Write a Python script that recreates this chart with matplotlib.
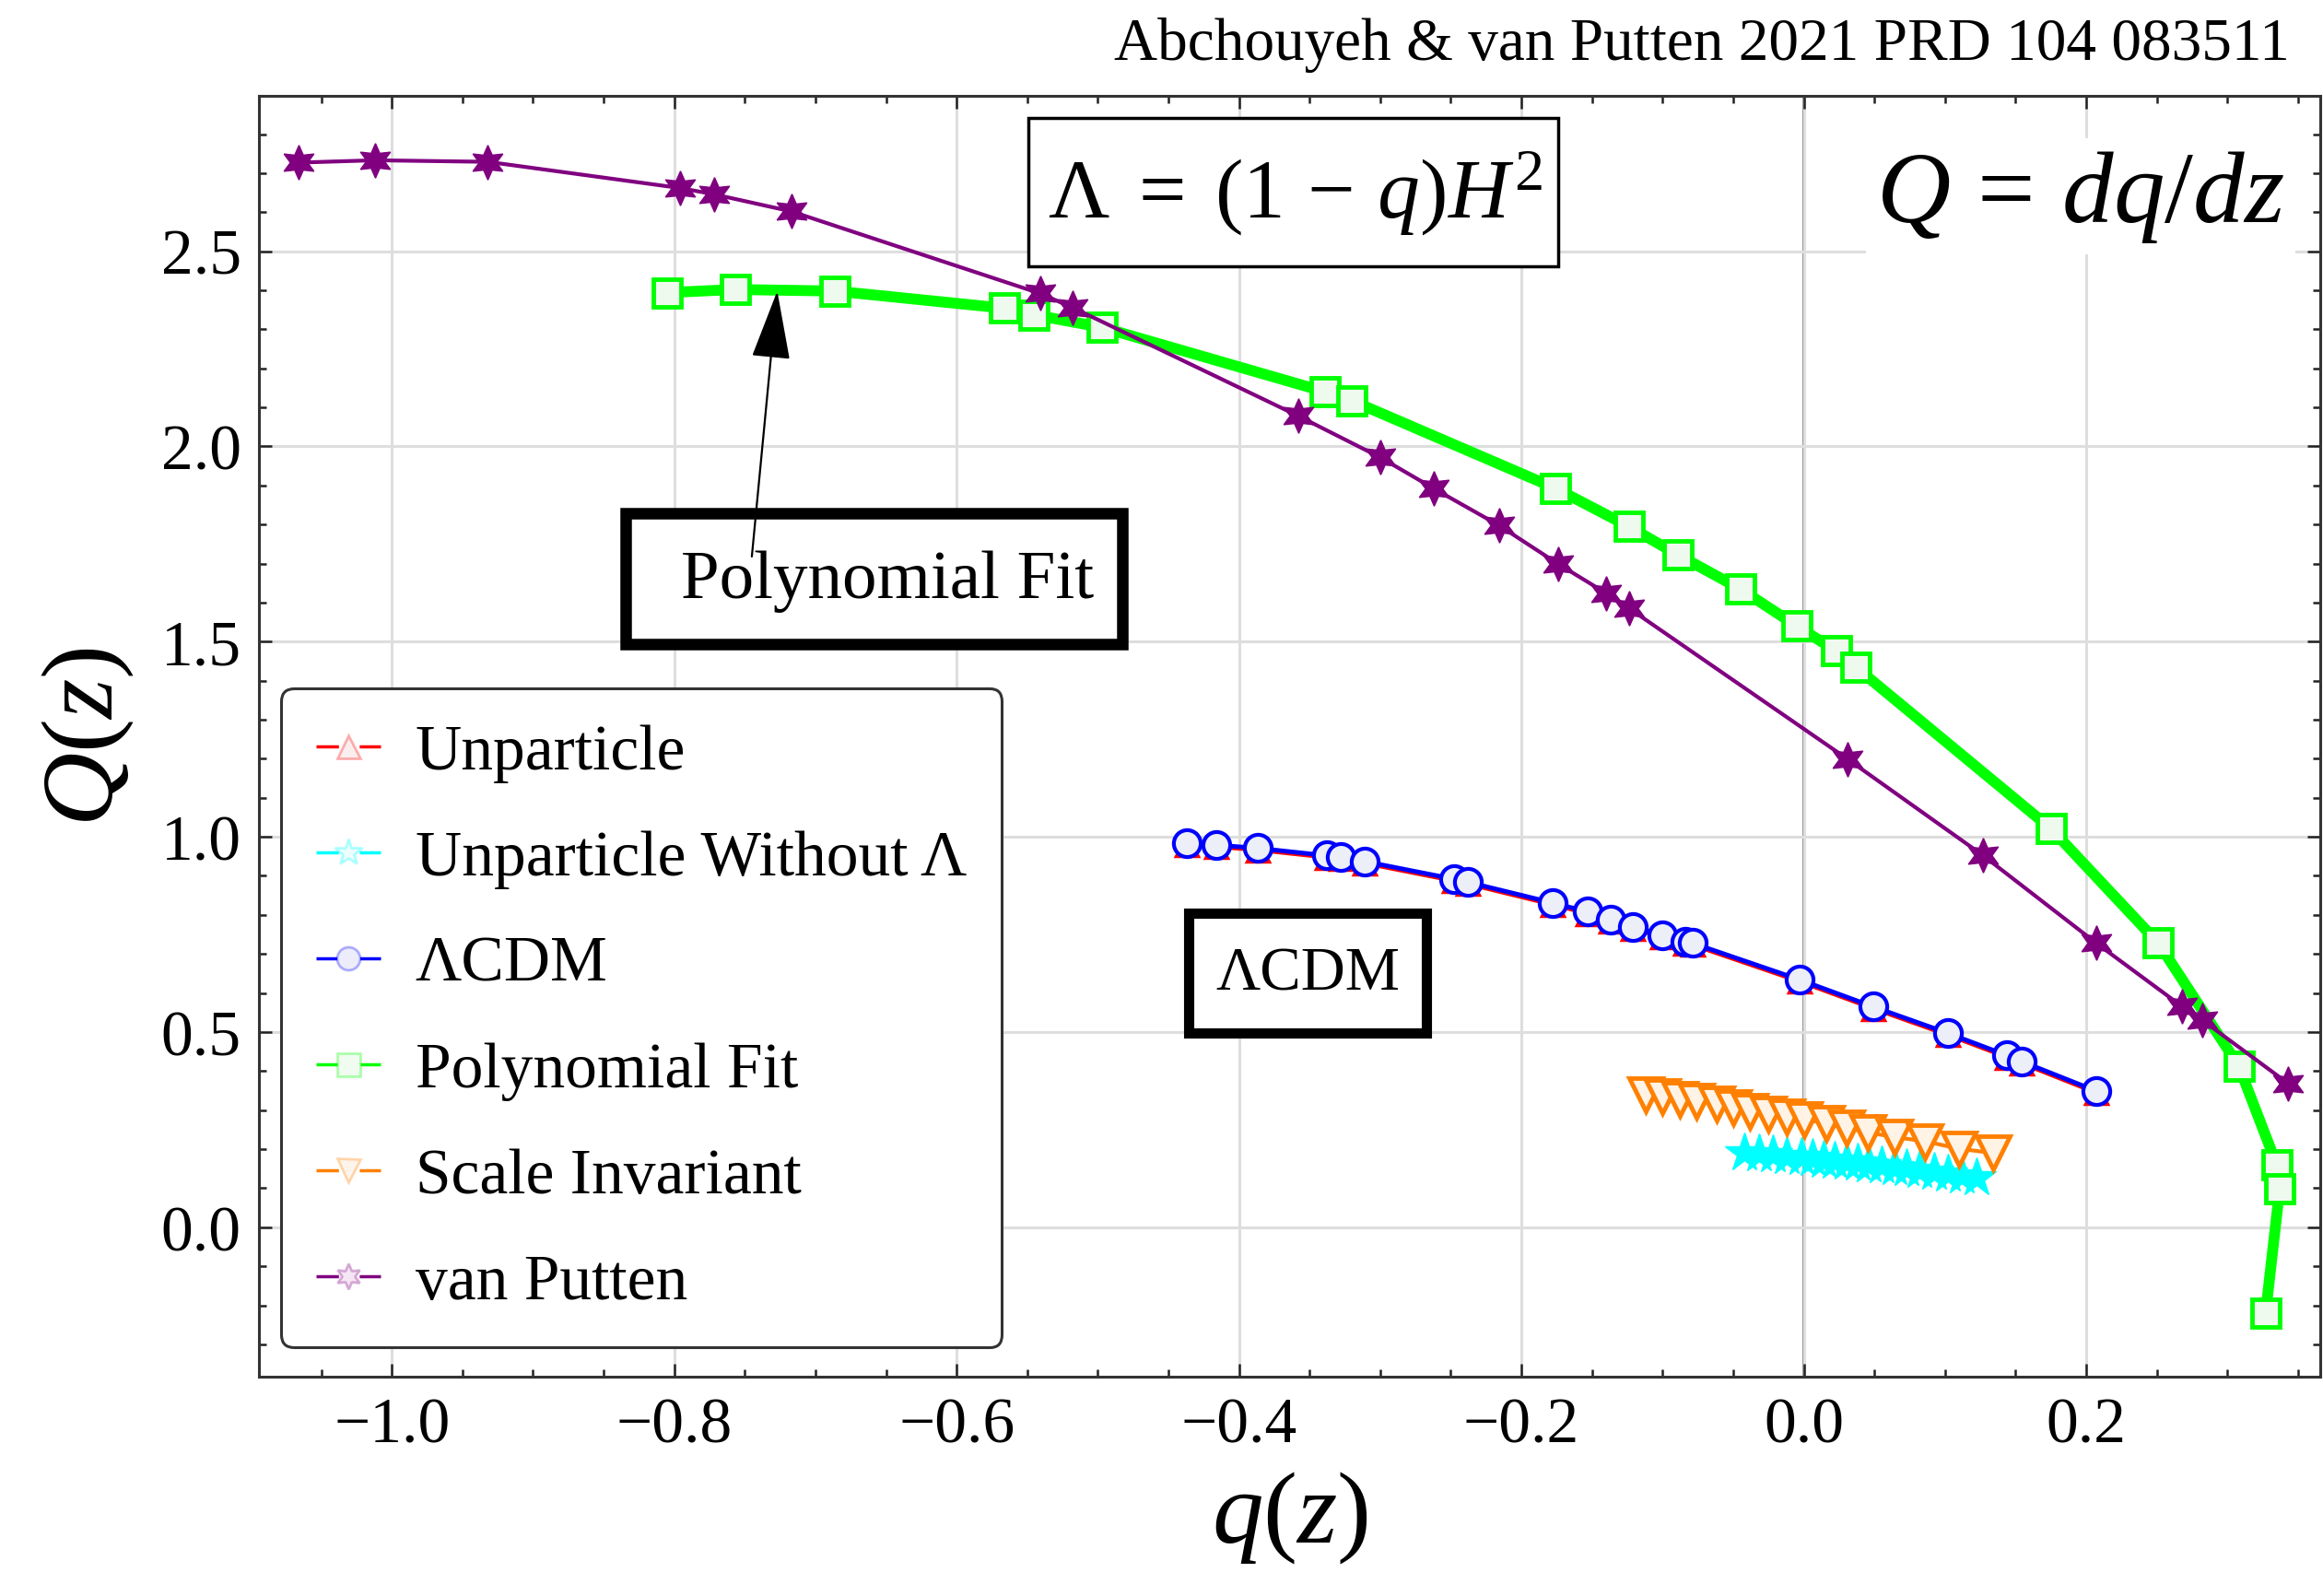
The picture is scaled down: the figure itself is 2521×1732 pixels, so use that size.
import matplotlib
matplotlib.use("Agg")
import matplotlib.pyplot as plt
from matplotlib.lines import Line2D
from matplotlib.patches import Rectangle
from matplotlib.ticker import MultipleLocator, FuncFormatter
from matplotlib.colors import to_rgba

plt.rcParams['font.family'] = ['Liberation Serif', 'DejaVu Serif']
plt.rcParams['mathtext.fontset'] = 'custom'
plt.rcParams['mathtext.rm'] = 'Liberation Serif'
plt.rcParams['mathtext.it'] = 'Liberation Serif:italic'
plt.rcParams['mathtext.bf'] = 'Liberation Serif:bold'

# values: q(z) on x, Q(z) = dq/dz on y
q_lcdm = [-0.437, -0.416, -0.387, -0.338, -0.328, -0.311, -0.248, -0.238, -0.178, -0.153,
          -0.137, -0.121, -0.100, -0.084, -0.079, -0.003, 0.049, 0.102, 0.144, 0.154, 0.207]
Q_lcdm = [0.983, 0.979, 0.971, 0.952, 0.948, 0.937, 0.892, 0.884, 0.831, 0.808,
          0.789, 0.770, 0.747, 0.732, 0.728, 0.634, 0.565, 0.497, 0.440, 0.425, 0.349]

# Unparticle sits almost exactly under LCDM
q_unp = q_lcdm
Q_unp = [0.978, 0.974, 0.966, 0.947, 0.943, 0.932, 0.887, 0.879, 0.826, 0.803,
         0.784, 0.765, 0.742, 0.727, 0.723, 0.629, 0.560, 0.492, 0.435, 0.420, 0.344]

q_unp_nl = [-0.042, -0.032, -0.022, -0.012, -0.002, 0.006, 0.014, 0.022, 0.030, 0.038,
            0.046, 0.055, 0.064, 0.073, 0.082, 0.092, 0.102, 0.112, 0.122]
Q_unp_nl = [0.190, 0.188, 0.185, 0.182, 0.179, 0.176, 0.173, 0.170, 0.167, 0.164,
            0.161, 0.158, 0.154, 0.150, 0.146, 0.142, 0.137, 0.132, 0.127]

q_poly = [-0.805, -0.757, -0.686, -0.566, -0.545, -0.497, -0.339, -0.320, -0.176, -0.124,
          -0.089, -0.045, -0.005, 0.023, 0.037, 0.175, 0.251, 0.308, 0.335, 0.337, 0.327]
Q_poly = [2.394, 2.402, 2.398, 2.354, 2.337, 2.305, 2.140, 2.117, 1.893, 1.795,
          1.722, 1.635, 1.540, 1.476, 1.434, 1.021, 0.728, 0.413, 0.159, 0.099, -0.220]

q_scale = [-0.112, -0.100, -0.088, -0.076, -0.062, -0.050, -0.038, -0.025, -0.012, 0.000,
           0.016, 0.030, 0.045, 0.064, 0.086, 0.110, 0.134]
Q_scale = [0.340, 0.334, 0.328, 0.322, 0.315, 0.307, 0.298, 0.291, 0.283, 0.276,
           0.266, 0.255, 0.243, 0.231, 0.220, 0.201, 0.190]

q_vp = [-1.066, -1.012, -0.932, -0.796, -0.772, -0.717, -0.541, -0.518, -0.358, -0.300,
        -0.262, -0.216, -0.174, -0.140, -0.124, 0.031, 0.127, 0.207, 0.268, 0.282, 0.343]
Q_vp = [2.727, 2.733, 2.729, 2.662, 2.646, 2.602, 2.392, 2.356, 2.078, 1.972,
        1.892, 1.798, 1.699, 1.624, 1.586, 1.199, 0.952, 0.728, 0.565, 0.531, 0.368]

fig = plt.figure(figsize=(25.21, 17.33), dpi=100)
ax = fig.add_axes([0.1115, 0.1373, 0.8875, 0.8021])

ax.grid(True, which='major', color='#dedede', lw=2.2, zorder=0)
ax.axvline(0, color='#7a7a7a', lw=2.6, zorder=1)
ax.axhline(0, color='#ababab', lw=2.2, zorder=1)

ax.plot(q_unp, Q_unp, '-', color='red', lw=3, marker='^', ms=17, mfc='#fdeaea',
        mec='red', mew=2.5, zorder=3)
ax.plot(q_unp_nl, Q_unp_nl, '-', color='cyan', lw=3, marker='*', ms=32, mfc='cyan',
        mec='cyan', mew=1, zorder=3)
ax.plot(q_lcdm, Q_lcdm, '-', color='blue', lw=3.5, marker='o', ms=21, mfc='#eceef8',
        mec='blue', mew=3, zorder=4)
ax.plot(q_poly, Q_poly, '-', color='#00ff00', lw=8.5, marker='s', ms=22, mfc='#effaef',
        mec='#00ff00', mew=3.5, zorder=4)
ax.plot(q_scale, Q_scale, '-', color='#ff8000', lw=3, marker='v', ms=26, mfc='#fff3e6',
        mec='#ff8000', mew=3.5, zorder=4)
ax.plot(q_vp, Q_vp, '-', color='#800080', lw=3, marker=(6, 1, 0), ms=27, mfc='#800080',
        mec='#800080', mew=1, zorder=5)

ax.set_xlim(-1.094, 0.366)
ax.set_ylim(-0.383, 2.898)

fmt = FuncFormatter(lambda v, p: ('%.1f' % (0.0 if abs(v) < 1e-9 else v)).replace('-', '\u2212'))
ax.xaxis.set_major_locator(MultipleLocator(0.2))
ax.xaxis.set_minor_locator(MultipleLocator(0.05))
ax.yaxis.set_major_locator(MultipleLocator(0.5))
ax.yaxis.set_minor_locator(MultipleLocator(0.1))
ax.xaxis.set_major_formatter(fmt)
ax.yaxis.set_major_formatter(fmt)
ax.tick_params(which='both', direction='in', top=True, right=True, width=1.8, color='#222222')
ax.tick_params(which='major', length=10, labelsize=50)
ax.tick_params(axis='x', which='major', pad=16)
ax.tick_params(axis='y', which='major', pad=14)
ax.tick_params(which='minor', length=6)
for s in ax.spines.values():
    s.set_linewidth(2.2)
    s.set_color('#333333')

ax.set_xlabel('$q(z)$', fontsize=80, labelpad=10)
ax.set_ylabel('$Q(z)$', fontsize=80, labelpad=20)

# annotation boxes
ax.add_patch(Rectangle((-0.549, 2.462), 0.375, 0.379, fill=True, fc='white', ec='black',
                       lw=2.5, zorder=6))
ax.text(-0.360, 2.652, r'$\Lambda\;=\;(1\,-\,q)H^2$', fontsize=66, ha='center', va='center',
        zorder=7)

ax.text(0.196, 2.640, r'$Q\,=\,dq/dz$', fontsize=80, ha='center', va='center', zorder=7,
        bbox=dict(boxstyle='square,pad=0.1', fc='white', ec='none'))

ax.add_patch(Rectangle((-0.8346, 1.493), 0.3517, 0.335, fill=True, fc='white', ec='black',
                       lw=9, zorder=6))
ax.text(-0.649, 1.655, 'Polynomial Fit', fontsize=54, ha='center', va='center', zorder=7)
ax.annotate('', xy=(-0.727, 2.398), xytext=(-0.745, 1.718), zorder=8,
            arrowprops=dict(arrowstyle='-|>,head_length=4.8,head_width=1.35', color='black',
                            lw=1.6, shrinkA=0, shrinkB=0))

ax.add_patch(Rectangle((-0.4355, 0.497), 0.168, 0.307, fill=True, fc='white', ec='black',
                       lw=8, zorder=6))
ax.text(-0.3515, 0.648, '\u039bCDM', fontsize=48, ha='center', va='center', zorder=7)

# legend in the Mathematica style: short dash, marker, short dash
def handle(c, m, ms, mfc):
    return Line2D([], [], color=c, lw=2.5, dashes=(7, 6.5), marker=m, ms=ms,
                  mfc=mfc, mec=to_rgba(c, 0.3), mew=2)

handles = [handle('red', '^', 18, '#fbeeee'),
           handle('cyan', '*', 22, '#eefefe'),
           handle('blue', 'o', 18, '#ececfa'),
           handle('#00ff00', 's', 18, '#effcef'),
           handle('#ff8000', 'v', 18, '#fff4ea'),
           handle('#800080', (6, 1, 0), 20, '#f4e6f4')]
labels = ['Unparticle', 'Unparticle Without \u039b', '\u039bCDM', 'Polynomial Fit',
          'Scale Invariant', 'van Putten']
leg = ax.legend(handles, labels, loc='lower left', bbox_to_anchor=(0.0107, 0.023),
                borderaxespad=0, fontsize=50, handlelength=1.0, handletextpad=0.55,
                labelspacing=0.74, borderpad=0.55, fancybox=True, framealpha=1)
leg.get_frame().set_edgecolor('#333333')
leg.get_frame().set_linewidth(2.2)
leg.set_zorder(9)

fig.text(0.9855, 0.972, 'Abchouyeh & van Putten 2021 PRD 104 083511', fontsize=47,
         ha='right', va='center')

fig.savefig('out.png', dpi=100, facecolor='white')
